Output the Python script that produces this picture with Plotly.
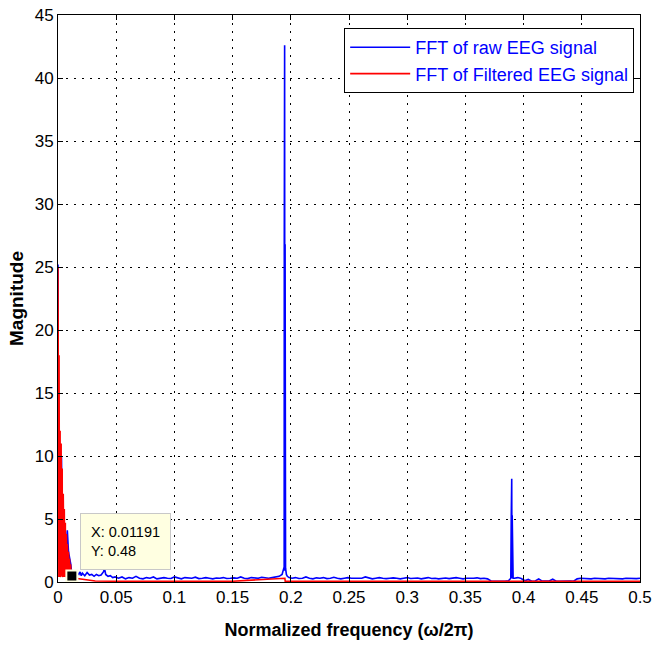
import plotly.graph_objects as go

# ---------------- data ----------------
raw_freq = [
    0.0, 0.0005, 0.001, 0.0015, 0.002, 0.0025, 0.003, 0.0035, 0.004, 0.0045, 0.005,
    0.006, 0.007, 0.008, 0.009, 0.010, 0.011, 0.012, 0.013, 0.014, 0.015, 0.016,
    0.017, 0.018, 0.019, 0.020,
    0.021, 0.023, 0.025, 0.027, 0.029, 0.031, 0.033, 0.035, 0.037, 0.039, 0.040,
    0.041, 0.043, 0.045, 0.047, 0.049,
    0.052, 0.055, 0.058, 0.061, 0.064, 0.067, 0.070, 0.073, 0.076, 0.079, 0.082,
    0.085, 0.088, 0.091, 0.094, 0.097, 0.100, 0.103, 0.106, 0.109, 0.112, 0.115,
    0.118, 0.121, 0.124, 0.127, 0.130, 0.133, 0.136, 0.139, 0.142, 0.145, 0.148,
    0.151, 0.154, 0.157, 0.160, 0.163, 0.166, 0.169, 0.172, 0.175, 0.178, 0.181,
    0.184, 0.187, 0.190,
    0.1925, 0.1935, 0.1940, 0.1943, 0.1944, 0.1946, 0.1947, 0.1949, 0.1951, 0.1955,
    0.1962, 0.197, 0.1985,
    0.201, 0.204, 0.207, 0.210, 0.213, 0.216, 0.219, 0.222, 0.225, 0.228, 0.231,
    0.234, 0.237, 0.240, 0.243, 0.246, 0.249, 0.252, 0.255, 0.258, 0.261, 0.264,
    0.267, 0.270, 0.273, 0.276, 0.279, 0.282, 0.285, 0.288, 0.291, 0.294, 0.297,
    0.300, 0.303, 0.306, 0.309, 0.312, 0.315, 0.318, 0.321, 0.324, 0.327, 0.330,
    0.333, 0.336, 0.339, 0.342, 0.345, 0.348, 0.351, 0.354, 0.357, 0.360, 0.363,
    0.366, 0.369,
    0.372, 0.375, 0.378, 0.381, 0.384, 0.387, 0.3890, 0.3894, 0.3896, 0.3898,
    0.3900, 0.3902, 0.3907, 0.391,
    0.392, 0.395, 0.398, 0.401, 0.404, 0.407, 0.410, 0.413, 0.416, 0.419, 0.422,
    0.425, 0.428, 0.431, 0.434, 0.437, 0.440, 0.443, 0.446, 0.449, 0.452, 0.455,
    0.458, 0.461, 0.464, 0.467, 0.470, 0.473, 0.476, 0.479, 0.482, 0.485, 0.488,
    0.491, 0.494, 0.497, 0.500,
]
raw_mag = [
    25.2, 3.1, 4.8, 2.2, 5.1, 3.0, 9.9, 4.2, 4.4, 2.5, 4.0,
    3.6, 2.8, 4.1, 2.4, 1.9, 1.4, 0.48, 0.9, 0.6, 0.8, 0.5,
    0.7, 0.6, 0.8, 0.5,
    0.7, 0.5, 0.75, 0.55, 0.6, 0.45, 0.6, 0.5, 0.55, 0.8, 1.05,
    0.6, 0.45, 0.5, 0.35, 0.4,
    0.3, 0.4, 0.25, 0.35, 0.3, 0.45, 0.3, 0.25, 0.35, 0.3, 0.4,
    0.25, 0.3, 0.35, 0.3, 0.28, 0.4, 0.3, 0.25, 0.35, 0.3, 0.3,
    0.38, 0.27, 0.3, 0.35, 0.3, 0.25, 0.32, 0.3, 0.35, 0.28, 0.3,
    0.33, 0.3, 0.4, 0.3, 0.27, 0.35, 0.3, 0.3, 0.38, 0.32, 0.3,
    0.35, 0.4, 0.45,
    0.6, 0.9, 1.1, 1.2, 26.8, 1.0, 42.6, 0.9, 26.8, 1.1,
    0.6, 0.45, 0.35,
    0.3, 0.35, 0.28, 0.3, 0.4, 0.3, 0.25, 0.33, 0.3, 0.35, 0.27,
    0.3, 0.38, 0.3, 0.25, 0.3, 0.35, 0.3, 0.28, 0.32, 0.3, 0.4,
    0.3, 0.25, 0.3, 0.35, 0.3, 0.27, 0.3, 0.33, 0.3, 0.25, 0.3,
    0.35, 0.28, 0.3, 0.32, 0.25, 0.3, 0.35, 0.28, 0.3, 0.25, 0.3,
    0.32, 0.27, 0.3, 0.35, 0.3, 0.25, 0.3, 0.28, 0.3, 0.33, 0.27,
    0.3, 0.25,
    0.08, 0.06, 0.1, 0.07, 0.05, 0.09, 0.3, 5.3, 0.3, 8.2,
    0.3, 5.3, 0.4, 0.3,
    0.3, 0.35, 0.28, 0.1, 0.2, 0.06, 0.08, 0.25, 0.07, 0.05, 0.08,
    0.22, 0.06, 0.05, 0.07, 0.06, 0.08, 0.06, 0.25, 0.3, 0.28, 0.3,
    0.25, 0.3, 0.28, 0.3, 0.25, 0.3, 0.28, 0.3, 0.3, 0.25, 0.3,
    0.28, 0.3, 0.27, 0.3,
]

filt_freq = [
    0.0, 0.00015, 0.0003, 0.00045, 0.0006, 0.00075, 0.0009, 0.00105, 0.0012, 0.00135,
    0.0015, 0.00165, 0.0018, 0.00195, 0.0021, 0.00225, 0.0024, 0.00255, 0.0027, 0.00285,
    0.0030, 0.00315, 0.0033, 0.00345, 0.0036, 0.00375, 0.0039, 0.00405, 0.0042, 0.00435,
    0.0045, 0.00465, 0.0048, 0.00495, 0.0051, 0.00525, 0.0054, 0.00555, 0.0057, 0.00585,
    0.0060, 0.00615, 0.0063, 0.00645, 0.0066, 0.00675, 0.0069, 0.00705, 0.0072, 0.00735,
    0.0075, 0.00765, 0.0078, 0.00795, 0.0081, 0.00825, 0.0084, 0.00855, 0.0087, 0.00885,
    0.0090, 0.00915, 0.0093, 0.00945, 0.0096, 0.00975, 0.0099, 0.01005, 0.0102, 0.01035,
    0.0105, 0.01065, 0.0108, 0.01095, 0.0111, 0.01125, 0.0114, 0.01155, 0.0117, 0.01185,
    0.0120, 0.0125, 0.013, 0.015, 0.020, 0.025, 0.030, 0.032, 0.05, 0.1, 0.15, 0.1949,
    0.1952, 0.25, 0.3, 0.35, 0.37, 0.39, 0.45, 0.5,
]
filt_mag = [
    25.0, 0.5, 24.0, 0.8, 22.0, 0.4, 18.0, 0.9, 15.0, 0.5,
    13.0, 0.7, 12.0, 0.4, 11.8, 1.0, 11.6, 0.6, 11.0, 0.8,
    10.5, 0.5, 9.8, 0.9, 9.0, 0.4, 8.2, 0.7, 7.5, 0.5,
    7.0, 1.0, 6.5, 0.6, 6.1, 0.4, 5.8, 0.8, 5.4, 0.5,
    5.0, 0.6, 4.7, 0.4, 4.4, 0.7, 4.1, 0.5, 3.8, 0.6,
    3.5, 0.4, 3.3, 0.5, 3.0, 0.3, 2.8, 0.5, 2.6, 0.4,
    2.4, 0.3, 2.2, 0.5, 2.0, 0.3, 1.85, 0.4, 1.7, 0.3,
    1.55, 0.4, 1.4, 0.3, 1.25, 0.3, 1.1, 0.3, 0.95, 0.3,
    0.8, 0.3, 0.5, 0.3, 0.25, 0.2, 0.15, 0.08, 0.06, 0.06, 0.06, 0.3,
    0.06, 0.06, 0.06, 0.06, 0.1, 0.08, 0.06, 0.06,
]

x_ticks = [0, 0.05, 0.1, 0.15, 0.2, 0.25, 0.3, 0.35, 0.4, 0.45, 0.5]
x_tick_text = ["0", "0.05", "0.1", "0.15", "0.2", "0.25", "0.3", "0.35", "0.4", "0.45", "0.5"]
y_ticks = [0, 5, 10, 15, 20, 25, 30, 35, 40, 45]

tip_x = 0.01191
tip_y = 0.48

FONT = "Liberation Sans, Arial, sans-serif"

fig = go.Figure()
fig.add_trace(go.Scatter(x=raw_freq, y=raw_mag, mode="lines",
                         line=dict(color="#0000ff", width=1.6),
                         name="FFT of raw EEG signal"))
fig.add_trace(go.Scatter(x=filt_freq, y=filt_mag, mode="lines",
                         line=dict(color="#ff0000", width=1.6),
                         name="FFT of Filtered EEG signal"))
fig.add_trace(go.Scatter(x=[tip_x], y=[tip_y], mode="markers",
                         marker=dict(symbol="square", size=11, color="black",
                                     line=dict(color="#ffffe1", width=2)),
                         showlegend=False))

fig.add_annotation(x=0.0185, y=0.95, xref="x", yref="y",
                   xanchor="left", yanchor="bottom", showarrow=False,
                   text=f"X: {tip_x}<br>Y: {tip_y}", align="left",
                   font=dict(family=FONT, size=14.5, color="black"),
                   bgcolor="#ffffe1", bordercolor="#c8c8c8", borderwidth=1,
                   borderpad=10)

axis_common = dict(showline=True, linecolor="black", linewidth=1, mirror="ticks",
                   ticks="inside", ticklen=5, tickcolor="black",
                   showgrid=True, gridcolor="black", gridwidth=1, griddash="2px,6px",
                   zeroline=False, ticklabeloverflow="allow", automargin=False,
                   tickfont=dict(family=FONT, size=17, color="black"))

fig.update_xaxes(range=[0, 0.5], tickvals=x_ticks, ticktext=x_tick_text,
                 title=dict(text="<b>Normalized frequency (ω/2π)</b>",
                            font=dict(family=FONT, size=18, color="black"),
                            standoff=16),
                 **axis_common)
fig.update_yaxes(range=[0, 45], tickvals=y_ticks,
                 title=dict(text="<b>Magnitude</b>",
                            font=dict(family=FONT, size=19, color="black"),
                            standoff=6),
                 **axis_common)

fig.update_layout(width=653, height=645,
                  margin=dict(l=58, r=13, t=15, b=63),
                  plot_bgcolor="white", paper_bgcolor="white",
                  legend=dict(x=0.99, y=0.977, xanchor="right", yanchor="top",
                              bgcolor="white", bordercolor="black", borderwidth=1,
                              font=dict(family=FONT, size=18, color="#0000ff"),
                              itemwidth=60, tracegroupgap=0),
                  showlegend=True)

fig.write_html("out.html")
